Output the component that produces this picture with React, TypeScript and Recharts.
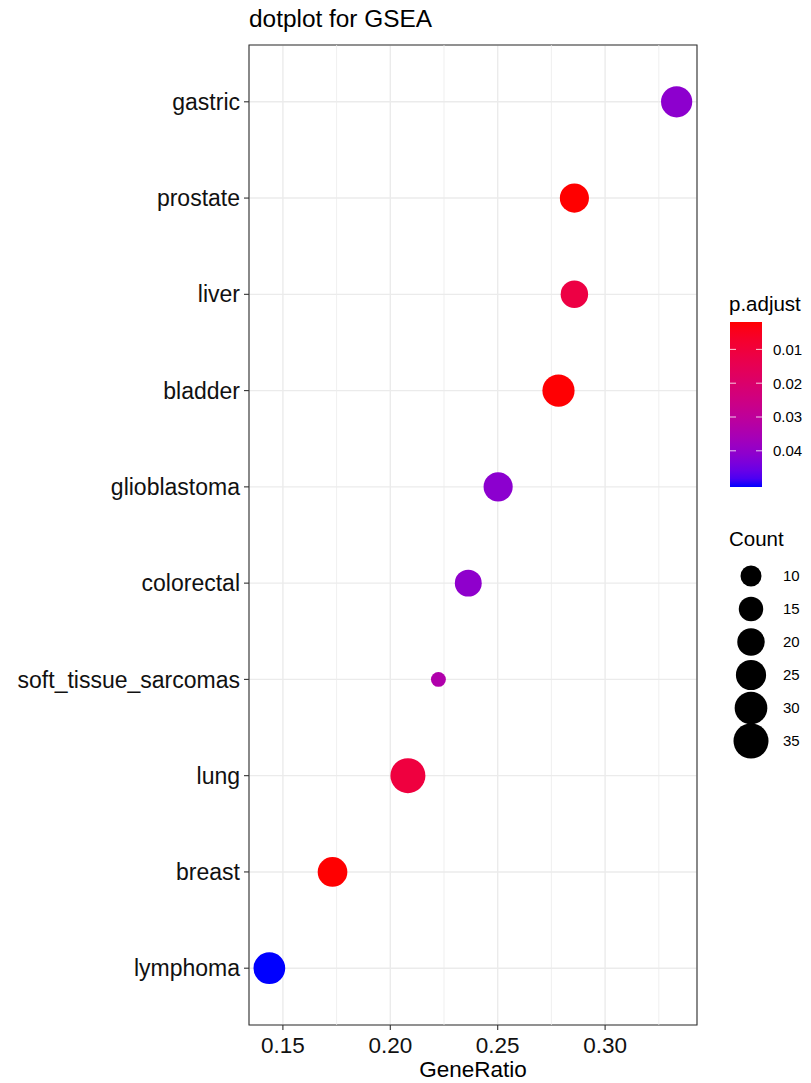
import React from 'react';
import {
  ScatterChart,
  Scatter,
  XAxis,
  YAxis,
  ZAxis,
  CartesianGrid,
  ReferenceLine,
  ReferenceArea,
  Cell,
} from 'recharts';

// Enrichment terms, bottom to top
const categories = [
  'lymphoma',
  'breast',
  'lung',
  'soft_tissue_sarcomas',
  'colorectal',
  'glioblastoma',
  'bladder',
  'liver',
  'prostate',
  'gastric',
];
const geneRatio = [0.1437, 0.1731, 0.2082, 0.2224, 0.2363, 0.2502, 0.2783, 0.2857, 0.2857, 0.3333];
const counts = [28, 24, 35, 3, 19, 23, 29, 20, 23, 27];
const pAdjust = [0.0507, 0.002, 0.0107, 0.0336, 0.0405, 0.041, 0.0021, 0.0117, 0.0019, 0.0409];

const xTicks = [0.15, 0.2, 0.25, 0.3];
const xMinorTicks = [0.175, 0.225, 0.275, 0.325];
const pTicks = [0.01, 0.02, 0.03, 0.04];
const countBreaks = [10, 15, 20, 25, 30, 35];

const FONT = '"Liberation Sans", Arial, Helvetica, sans-serif';

// ---- colour scale: red (low p) -> blue (high p), interpolated in CIE Lab ----
type Lab = [number, number, number];
const srgbToLin = (c: number) => (c <= 0.04045 ? c / 12.92 : Math.pow((c + 0.055) / 1.055, 2.4));
const linToSrgb = (c: number) => (c <= 0.0031308 ? 12.92 * c : 1.055 * Math.pow(c, 1 / 2.4) - 0.055);
const WX = 0.95047, WY = 1.0, WZ = 1.08883;
function rgbToLab(r: number, g: number, b: number): Lab {
  const R = srgbToLin(r / 255), G = srgbToLin(g / 255), B = srgbToLin(b / 255);
  const X = (0.4124 * R + 0.3576 * G + 0.1805 * B) / WX;
  const Y = (0.2126 * R + 0.7152 * G + 0.0722 * B) / WY;
  const Z = (0.0193 * R + 0.1192 * G + 0.9505 * B) / WZ;
  const f = (t: number) => (t > 0.008856 ? Math.cbrt(t) : 7.787 * t + 16 / 116);
  const fx = f(X), fy = f(Y), fz = f(Z);
  return [116 * fy - 16, 500 * (fx - fy), 200 * (fy - fz)];
}
function labToHex([L, a, b]: Lab): string {
  const fy = (L + 16) / 116;
  const fx = fy + a / 500;
  const fz = fy - b / 200;
  const inv = (t: number) => (t > 0.206893 ? t * t * t : (t - 16 / 116) / 7.787);
  const X = inv(fx) * WX, Y = inv(fy) * WY, Z = inv(fz) * WZ;
  const R = 3.2406 * X - 1.5372 * Y - 0.4986 * Z;
  const G = -0.9689 * X + 1.8758 * Y + 0.0415 * Z;
  const B = 0.0557 * X - 0.204 * Y + 1.057 * Z;
  const to = (c: number) => {
    const v = Math.round(Math.min(1, Math.max(0, linToSrgb(c))) * 255);
    return v.toString(16).padStart(2, '0');
  };
  return '#' + to(R) + to(G) + to(B);
}
const LOW = rgbToLab(255, 0, 0);
const HIGH = rgbToLab(0, 0, 255);
const pMin = Math.min(...pAdjust);
const pMax = Math.max(...pAdjust);
const pToT = (p: number) => (p - pMin) / (pMax - pMin);
const colorAt = (t: number) =>
  labToHex([0, 1, 2].map((k) => LOW[k] + (HIGH[k] - LOW[k]) * t) as Lab);

// ---- size scale: symbol area linear in count ----
const SIZE_DOMAIN: [number, number] = [0, 35];
const SIZE_RANGE: [number, number] = [100, 963];
const areaFor = (c: number) =>
  SIZE_RANGE[0] + ((SIZE_RANGE[1] - SIZE_RANGE[0]) * (c - SIZE_DOMAIN[0])) / (SIZE_DOMAIN[1] - SIZE_DOMAIN[0]);
const radiusFor = (c: number) => Math.sqrt(areaFor(c) / Math.PI);

// ---- x domain with 5% expansion on each side ----
const xLo = Math.min(...geneRatio);
const xHi = Math.max(...geneRatio);
const xPad = (xHi - xLo) * 0.05;
const xDomain: [number, number] = [xLo - xPad, xHi + xPad];
const yDomain: [number, number] = [0.41, categories.length + 0.59];
const yTicks = categories.map((_, i) => i + 1);

const rows = categories.map((name, i) => ({
  name,
  idx: i + 1,
  ratio: geneRatio[i],
  count: counts[i],
  p: pAdjust[i],
  color: colorAt(pToT(pAdjust[i])),
}));

const W = 811;
const H = 1083;

function Legends() {
  const barX = 730;
  const barW = 32;
  const barTop = 322;
  const barH = 165;
  const stops = Array.from({ length: 21 }, (_, i) => i / 20);
  return (
    <svg
      width={W}
      height={H}
      style={{ position: 'absolute', left: 0, top: 0, pointerEvents: 'none' }}
      fontFamily={FONT}
    >
      <defs>
        <linearGradient id="padjGrad" x1="0" y1="0" x2="0" y2="1">
          {stops.map((t) => (
            <stop key={t} offset={t} stopColor={colorAt(t)} />
          ))}
        </linearGradient>
      </defs>
      <text x={249} y={27} fontSize={24.4} fill="#000">
        dotplot for GSEA
      </text>

      {/* p.adjust colour bar */}
      <text x={729} y={311} fontSize={20.5} fill="#000">
        p.adjust
      </text>
      <rect x={barX} y={barTop} width={barW} height={barH} fill="url(#padjGrad)" />
      {pTicks.map((v) => {
        const y = barTop + pToT(v) * barH;
        return (
          <g key={v}>
            <line x1={barX} x2={barX + 6} y1={y} y2={y} stroke="#fff" strokeOpacity={0.8} strokeWidth={1} />
            <line x1={barX + barW - 6} x2={barX + barW} y1={y} y2={y} stroke="#fff" strokeOpacity={0.8} strokeWidth={1} />
            <text x={773} y={y} dy="0.36em" fontSize={15} fill="#000">
              {v.toFixed(2)}
            </text>
          </g>
        );
      })}

      {/* Count size legend */}
      <text x={729} y={546} fontSize={20.5} fill="#000">
        Count
      </text>
      {countBreaks.map((c, i) => {
        const cy = 576 + i * 33;
        return (
          <g key={c}>
            <circle cx={751} cy={cy} r={radiusFor(c)} fill="#000" />
            <text x={783} y={cy} dy="0.36em" fontSize={15} fill="#000">
              {c}
            </text>
          </g>
        );
      })}
    </svg>
  );
}

export default function App() {
  return (
    <div style={{ position: 'absolute', left: 0, top: 0, width: W, height: H, background: '#fff' }}>
      <ScatterChart width={W} height={H} margin={{ top: 45, right: 114, bottom: 0, left: 0 }}>
        <CartesianGrid stroke="#EBEBEB" strokeWidth={1.4} />
        {xMinorTicks.map((v) => (
          <ReferenceLine key={v} x={v} stroke="#EBEBEB" strokeWidth={0.8} />
        ))}
        <XAxis
          type="number"
          dataKey="ratio"
          domain={xDomain}
          ticks={xTicks}
          allowDataOverflow
          tickFormatter={(v: number) => v.toFixed(2)}
          height={58}
          axisLine={false}
          tickSize={5}
          tickMargin={7}
          tickLine={{ stroke: '#333', strokeWidth: 1.1 }}
          tick={{ fill: '#111', fontSize: 22.5, fontFamily: FONT }}
          label={{
            value: 'GeneRatio',
            position: 'insideBottom',
            offset: 6,
            fill: '#000',
            fontSize: 22.5,
            fontFamily: FONT,
          }}
        />
        <YAxis
          type="number"
          dataKey="idx"
          domain={yDomain}
          ticks={yTicks}
          interval={0}
          allowDataOverflow
          tickFormatter={(v: number) => categories[v - 1]}
          width={249}
          axisLine={false}
          tickSize={5}
          tickMargin={4}
          tickLine={{ stroke: '#333', strokeWidth: 1.1 }}
          tick={{ fill: '#111', fontSize: 23, fontFamily: FONT }}
        />
        <ZAxis type="number" dataKey="count" domain={SIZE_DOMAIN} range={SIZE_RANGE} />
        <ReferenceArea
          x1={xDomain[0]}
          x2={xDomain[1]}
          y1={yDomain[0]}
          y2={yDomain[1]}
          fill="none"
          stroke="#333"
          strokeWidth={1.1}
          ifOverflow="visible"
        />
        <Scatter data={rows} isAnimationActive={false} shape="circle">
          {rows.map((r) => (
            <Cell key={r.name} fill={r.color} />
          ))}
        </Scatter>
      </ScatterChart>
      <Legends />
    </div>
  );
}
